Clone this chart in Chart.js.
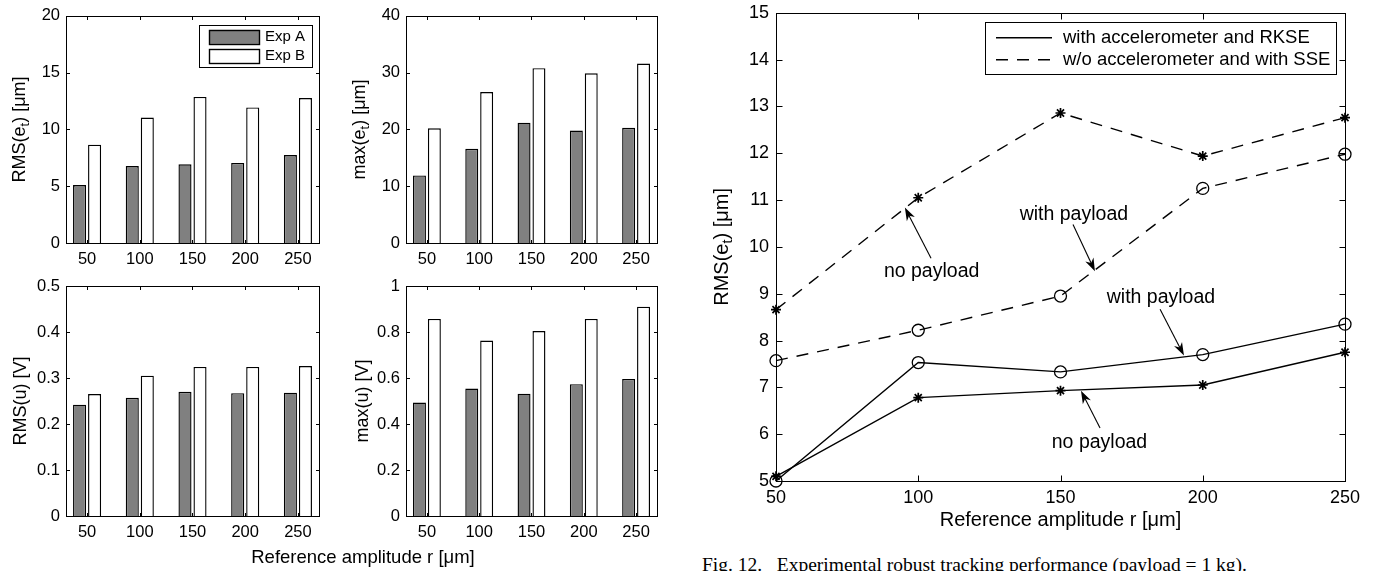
<!DOCTYPE html>
<html>
<head>
<meta charset="utf-8">
<script src="https://cdn.jsdelivr.net/npm/chart.js@4.4.1/dist/chart.umd.min.js"></script>
<style>
html, body { margin: 0; padding: 0; background: #fff; width: 1382px; height: 571px; overflow: hidden; }
.box { position: absolute; }
.txt { position: absolute; white-space: nowrap; color: #000; line-height: 1; }
</style>
</head>
<body>
<div class="box" style="left:0px;top:0px;width:330px;height:280px"><canvas id="rmsErr"></canvas></div>
<div class="box" style="left:330px;top:0px;width:340px;height:280px"><canvas id="maxErr"></canvas></div>
<div class="box" style="left:0px;top:270px;width:330px;height:301px"><canvas id="rmsU"></canvas></div>
<div class="box" style="left:330px;top:270px;width:340px;height:301px"><canvas id="maxU"></canvas></div>
<div class="box" style="left:680px;top:-5px;width:702px;height:540px"><canvas id="tracking"></canvas></div>
<div class="txt" style="left:363px;top:557px;transform:translate(-50%,-50%);font:18.5px 'Liberation Sans', Arial, sans-serif">Reference amplitude r [μm]</div>
<div class="txt" style="left:702px;top:555px;font:19.5px 'Liberation Serif', 'Times New Roman', serif;line-height:19px">Fig. 12.&nbsp;&nbsp;&nbsp;Experimental robust tracking performance (payload = 1 kg).</div>

<script>
// bar charts (left)
var amplitudes = ['50', '100', '150', '200', '250'];
var rmsErrA = [5.1, 6.78, 6.93, 7.05, 7.75];
var rmsErrB = [8.66, 11.05, 12.86, 11.94, 12.76];
var maxErrA = [11.9, 16.6, 21.2, 19.8, 20.3];
var maxErrB = [20.2, 26.6, 30.8, 29.9, 31.6];
var rmsUA = [0.242, 0.257, 0.270, 0.267, 0.268];
var rmsUB = [0.265, 0.305, 0.324, 0.324, 0.326];
var maxUA = [0.493, 0.554, 0.532, 0.573, 0.596];
var maxUB = [0.857, 0.763, 0.804, 0.857, 0.910];

// line chart (right)
var refAmp = [50, 100, 150, 200, 250];
var rkseLoad = [5.0, 7.53, 7.33, 7.70, 8.35];
var rkseNoLoad = [5.1, 6.78, 6.93, 7.05, 7.75];
var sseLoad = [7.57, 8.22, 8.95, 11.25, 11.98];
var sseNoLoad = [8.66, 11.05, 12.86, 11.94, 12.76];

// annotations, in data units of the right chart
var noteLabels = ['no payload', 'with payload', 'with payload', 'no payload'];
var noteAt = [[104.7, 9.48], [154.7, 10.69], [185.3, 8.91], [163.7, 5.83]];
var arrowFrom = [[104.5, 9.76], [154.4, 10.48], [185.0, 8.67], [163.9, 6.13]];
var arrowTo = [[95.3, 10.84], [162.1, 9.48], [193.4, 7.68], [157.2, 6.93]];

var FONT = '"Liberation Sans", Arial, sans-serif';
Chart.defaults.font.family = FONT;
Chart.defaults.color = '#000';

// box round the plot with inward ticks on all four sides
var matlabAxes = {
  id: 'matlabAxes',
  afterDraw: function(chart, args, opts) {
    var ctx = chart.ctx, a = chart.chartArea, len = opts.len;
    var xs = chart.scales.x, ys = chart.scales.y;
    var l = Math.round(a.left) + 0.5, r = Math.round(a.right) + 0.5;
    var t = Math.round(a.top) + 0.5, b = Math.round(a.bottom) + 0.5;
    ctx.save();
    ctx.strokeStyle = '#000';
    ctx.lineWidth = 1;
    ctx.beginPath();
    xs.ticks.forEach(function(tk) {
      var px = Math.round(xs.getPixelForValue(tk.value)) + 0.5;
      ctx.moveTo(px, b); ctx.lineTo(px, b - len);
      ctx.moveTo(px, t); ctx.lineTo(px, t + len);
    });
    ys.ticks.forEach(function(tk) {
      var py = Math.round(ys.getPixelForValue(tk.value)) + 0.5;
      ctx.moveTo(l, py); ctx.lineTo(l + len, py);
      ctx.moveTo(r, py); ctx.lineTo(r - len, py);
    });
    ctx.stroke();
    ctx.strokeRect(l, t, r - l, b - t);
    ctx.restore();
  }
};

// rotated y title with a subscript part
var richTitle = {
  id: 'richTitle',
  afterDraw: function(chart, args, opts) {
    var ctx = chart.ctx, a = chart.chartArea, size = opts.size;
    var parts = opts.parts;
    ctx.save();
    ctx.translate(opts.x, (a.top + a.bottom) / 2);
    ctx.rotate(-Math.PI / 2);
    ctx.fillStyle = '#000';
    ctx.textBaseline = 'middle';
    ctx.textAlign = 'left';
    var widths = [], total = 0;
    for (var i = 0; i < parts.length; i++) {
      ctx.font = (parts[i].sub ? size * 0.72 : size) + 'px ' + FONT;
      widths.push(ctx.measureText(parts[i].text).width);
      total += widths[i];
    }
    var cx = -total / 2;
    for (var j = 0; j < parts.length; j++) {
      ctx.font = (parts[j].sub ? size * 0.72 : size) + 'px ' + FONT;
      ctx.fillText(parts[j].text, cx, parts[j].sub ? size * 0.32 : 0);
      cx += widths[j];
    }
    ctx.restore();
  }
};

// boxed legend in the upper right corner of the plot
var boxLegend = {
  id: 'boxLegend',
  afterDraw: function(chart, args, opts) {
    if (!opts.show) return;
    var ctx = chart.ctx, a = chart.chartArea;
    var seen = {}, items = [];
    chart.data.datasets.forEach(function(ds) {
      if (!seen[ds.label]) { seen[ds.label] = true; items.push(ds); }
    });
    var left = a.right - opts.right - opts.w, top = a.top + opts.top;
    ctx.save();
    ctx.fillStyle = '#fff';
    ctx.fillRect(left, top, opts.w, opts.h);
    ctx.strokeStyle = '#000';
    ctx.lineWidth = 1;
    ctx.strokeRect(Math.round(left) + 0.5, Math.round(top) + 0.5, opts.w, opts.h);
    ctx.font = opts.size + 'px ' + FONT;
    ctx.textBaseline = 'middle';
    items.forEach(function(ds, i) {
      var y = top + opts.row0 + i * opts.rowGap;
      if (opts.kind === 'bar') {
        ctx.fillStyle = ds.backgroundColor;
        ctx.fillRect(left + opts.sx, y - 7, opts.sw, 14);
        ctx.lineWidth = 1.4;
        ctx.strokeRect(Math.round(left + opts.sx) + 0.5, Math.round(y - 7) + 0.5, opts.sw, 14);
      } else {
        ctx.lineWidth = ds.borderWidth;
        ctx.setLineDash(ds.borderDash || []);
        ctx.beginPath();
        ctx.moveTo(left + opts.sx, y);
        ctx.lineTo(left + opts.sx + opts.sw, y);
        ctx.stroke();
        ctx.setLineDash([]);
      }
      ctx.fillStyle = '#000';
      ctx.fillText(ds.label, left + opts.tx, y);
    });
    ctx.restore();
  }
};

// text labels with arrows
var notes = {
  id: 'notes',
  afterDatasetsDraw: function(chart, args, opts) {
    if (!opts.show) return;
    var ctx = chart.ctx, xs = chart.scales.x, ys = chart.scales.y;
    ctx.save();
    ctx.fillStyle = '#000';
    ctx.strokeStyle = '#000';
    ctx.lineWidth = 1.1;
    ctx.font = opts.size + 'px ' + FONT;
    ctx.textAlign = 'center';
    ctx.textBaseline = 'middle';
    for (var i = 0; i < noteLabels.length; i++) {
      ctx.fillText(noteLabels[i], xs.getPixelForValue(noteAt[i][0]), ys.getPixelForValue(noteAt[i][1]));
      var x0 = xs.getPixelForValue(arrowFrom[i][0]), y0 = ys.getPixelForValue(arrowFrom[i][1]);
      var x1 = xs.getPixelForValue(arrowTo[i][0]), y1 = ys.getPixelForValue(arrowTo[i][1]);
      var ang = Math.atan2(y1 - y0, x1 - x0), c = Math.cos(ang), s = Math.sin(ang);
      var L = 13, w = 4.5;
      ctx.beginPath();
      ctx.moveTo(x0, y0);
      ctx.lineTo(x1 - c * 6, y1 - s * 6);
      ctx.stroke();
      ctx.beginPath();
      ctx.moveTo(x1, y1);
      ctx.lineTo(x1 - L * c + w * s, y1 - L * s - w * c);
      ctx.lineTo(x1 - L * 0.7 * c, y1 - L * 0.7 * s);
      ctx.lineTo(x1 - L * c - w * s, y1 - L * s + w * c);
      ctx.closePath();
      ctx.fill();
    }
    ctx.restore();
  }
};

function toPoints(vals) {
  return vals.map(function(v, i) { return { x: i + 1, y: v }; });
}

function plainNumber(v) {
  return String(Math.round(v * 1000) / 1000);
}

function barChart(id, a, b, yMax, yStep, pad, yWidth, title, titleX, legend) {
  return new Chart(document.getElementById(id), {
    type: 'bar',
    data: {
      datasets: [
        { label: 'Exp A', data: toPoints(a), backgroundColor: '#808080', borderColor: '#000', borderWidth: 1.4,
          categoryPercentage: 0.57, barPercentage: 0.87 },
        { label: 'Exp B', data: toPoints(b), backgroundColor: '#ffffff', borderColor: '#000', borderWidth: 1.4,
          categoryPercentage: 0.57, barPercentage: 0.87 }
      ]
    },
    options: {
      responsive: true,
      maintainAspectRatio: false,
      animation: false,
      layout: { padding: pad },
      plugins: {
        legend: { display: false },
        tooltip: { enabled: false },
        matlabAxes: { len: 3.5 },
        richTitle: { parts: title, x: titleX, size: 18 },
        boxLegend: { show: legend, kind: 'bar', w: 113, h: 42, right: 7, top: 9, row0: 12, rowGap: 19,
          sx: 10, sw: 50, tx: 66, size: 15 }
      },
      scales: {
        x: {
          type: 'linear', min: 0.6, max: 5.4, offset: false,
          grid: { display: false, drawTicks: false }, border: { display: false },
          ticks: { padding: 6.6, font: { size: 16.5 }, maxRotation: 0,
            callback: function(v) { return amplitudes[Math.round(v) - 1]; } },
          afterBuildTicks: function(s) { s.ticks = amplitudes.map(function(c, i) { return { value: i + 1 }; }); },
          afterFit: function(s) { s.height = 37; }
        },
        y: {
          min: 0, max: yMax,
          grid: { display: false, drawTicks: false }, border: { display: false },
          ticks: { stepSize: yStep, padding: 6, font: { size: 16.5 }, callback: plainNumber },
          afterFit: function(s) { s.width = yWidth; }
        }
      }
    },
    plugins: [matlabAxes, richTitle, boxLegend]
  });
}

barChart('rmsErr', rmsErrA, rmsErrB, 20, 5, { top: 14, right: 11, bottom: 0, left: 0 }, 66,
  [{ text: 'RMS(e' }, { text: 't', sub: true }, { text: ') [μm]' }], 20, true);
barChart('maxErr', maxErrA, maxErrB, 40, 10, { top: 14, right: 13, bottom: 0, left: 0 }, 76,
  [{ text: 'max(e' }, { text: 't', sub: true }, { text: ') [μm]' }], 30, false);
barChart('rmsU', rmsUA, rmsUB, 0.5, 0.1, { top: 16, right: 11, bottom: 18, left: 0 }, 66,
  [{ text: 'RMS(u) [V]' }], 21, false);
barChart('maxU', maxUA, maxUB, 1, 0.2, { top: 16, right: 13, bottom: 18, left: 0 }, 76,
  [{ text: 'max(u) [V]' }], 33, false);

function series(label, vals, dashed, marker) {
  return {
    label: label,
    data: vals.map(function(v, i) { return { x: refAmp[i], y: v }; }),
    borderColor: '#000',
    borderWidth: 1.4,
    borderDash: dashed ? [12, 9] : [],
    pointStyle: marker,
    pointRadius: marker === 'circle' ? 6 : 5,
    pointBorderWidth: marker === 'circle' ? 1.3 : 1.7,
    pointBorderColor: '#000',
    pointBackgroundColor: 'rgba(0,0,0,0)',
    tension: 0,
    fill: false,
    clip: false
  };
}

new Chart(document.getElementById('tracking'), {
  type: 'line',
  data: {
    datasets: [
      series('with accelerometer and RKSE', rkseLoad, false, 'circle'),
      series('with accelerometer and RKSE', rkseNoLoad, false, 'star'),
      series('w/o accelerometer and with SSE', sseLoad, true, 'circle'),
      series('w/o accelerometer and with SSE', sseNoLoad, true, 'star')
    ]
  },
  options: {
    responsive: true,
    maintainAspectRatio: false,
    animation: false,
    layout: { padding: { top: 15, right: 37, bottom: 0, left: 0 } },
    plugins: {
      legend: { display: false },
      tooltip: { enabled: false },
      matlabAxes: { len: 6 },
      richTitle: { parts: [{ text: 'RMS(e' }, { text: 't', sub: true }, { text: ') [μm]' }], x: 42, size: 20 },
      boxLegend: { show: true, kind: 'line', w: 351, h: 52, right: 9, top: 9, row0: 16, rowGap: 22,
        sx: 11, sw: 56, tx: 78, size: 18.5 },
      notes: { show: true, size: 19.5 }
    },
    scales: {
      x: {
        type: 'linear', min: 50, max: 250,
        grid: { display: false, drawTicks: false }, border: { display: false },
        ticks: { stepSize: 50, padding: 6.2, font: { size: 18 }, maxRotation: 0 },
        title: { display: true, text: 'Reference amplitude r [μm]', font: { size: 20 }, padding: { top: 4, bottom: 3 } },
        afterFit: function(s) { s.height = 54; }
      },
      y: {
        min: 5, max: 15,
        grid: { display: false, drawTicks: false }, border: { display: false },
        ticks: { stepSize: 1, padding: 7, font: { size: 18 } },
        afterFit: function(s) { s.width = 96; }
      }
    }
  },
  plugins: [matlabAxes, richTitle, boxLegend, notes]
});
</script>
</body>
</html>
